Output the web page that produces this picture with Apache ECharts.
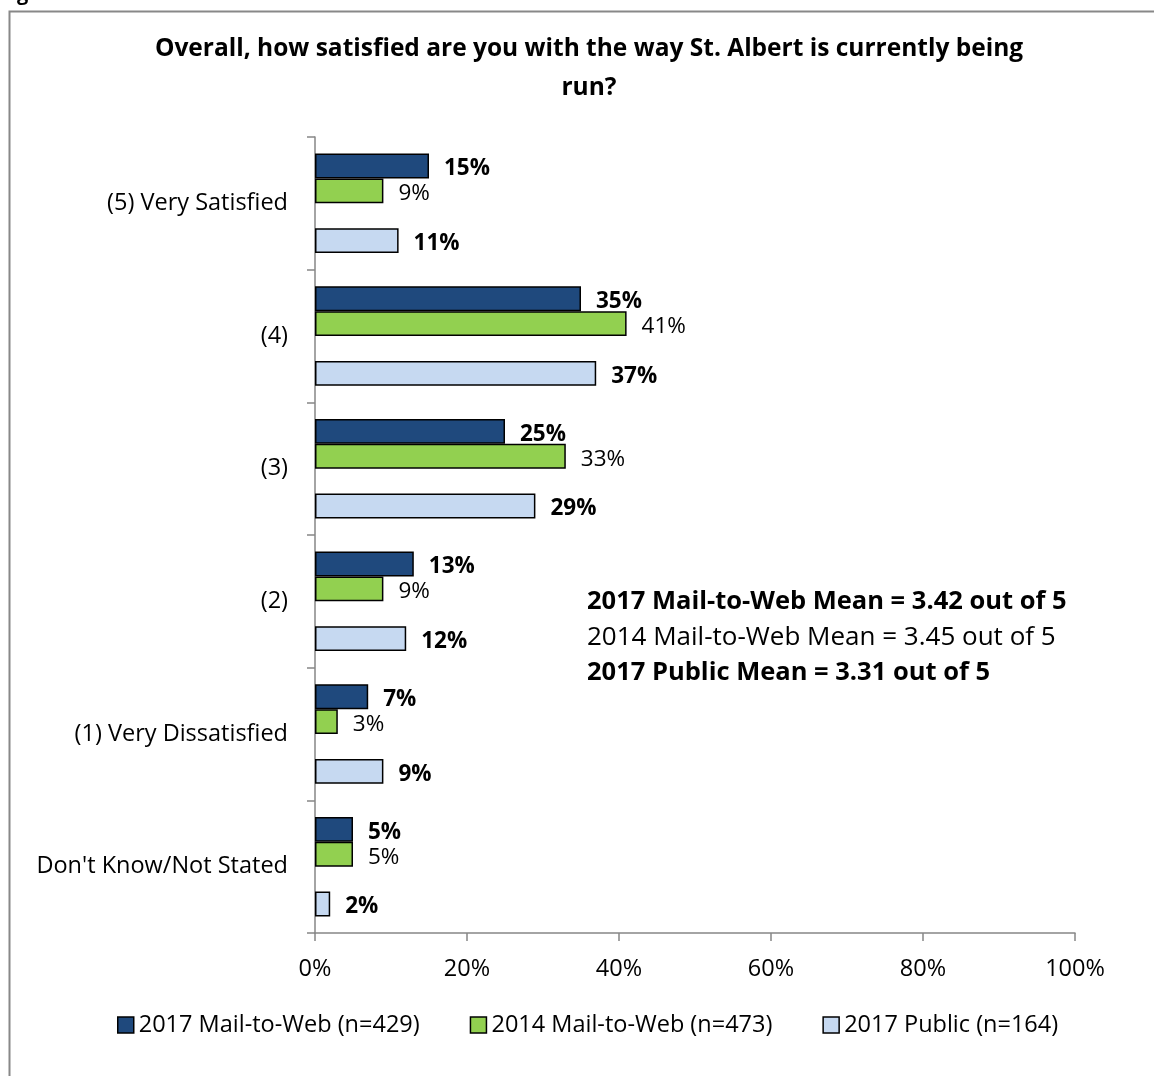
<!DOCTYPE html>
<html>
<head>
<meta charset="utf-8">
<script src="https://cdn.jsdelivr.net/npm/echarts@6/dist/echarts.min.js"></script>
<style>
  html, body { margin: 0; padding: 0; background: #fff; }
  #chart { width: 1154px; height: 1076px; }
</style>
</head>
<body>
<div id="chart"></div>
<script>
// Response categories, top to bottom
const categories = ['(5) Very Satisfied', '(4)', '(3)', '(2)', '(1) Very Dissatisfied', "Don't Know/Not Stated"];
// Percent of respondents per category
const mailToWeb2017 = [15, 35, 25, 13, 7, 5];
const mailToWeb2014 = [9, 41, 33, 9, 3, 5];
const public2017 = [11, 37, 29, 12, 9, 2];
const seriesNames = ['2017 Mail-to-Web (n=429)', '2014 Mail-to-Web (n=473)', '2017 Public (n=164)'];
const meanLines = [
  '2017 Mail-to-Web Mean = 3.42 out of 5',
  '2014 Mail-to-Web Mean = 3.45 out of 5',
  '2017 Public Mean = 3.31 out of 5'
];
const xTicks = [0, 20, 40, 60, 80, 100];

const FONT = '"Open Sans", Lato, sans-serif';
const colors = ['#1f497d', '#92d050', '#c6d9f1'];
const axisGrey = '#868686';

const chart = echarts.init(document.getElementById('chart'), null, { renderer: 'canvas' });

function barSeries(name, data, color, bold) {
  return {
    name: name,
    type: 'bar',
    data: data,
    barGap: '0%',
    barCategoryGap: '25%',
    itemStyle: { color: color, borderColor: '#000', borderWidth: 1.5 },
    label: {
      show: true,
      position: 'right',
      distance: 15,
      offset: [0, 3],
      formatter: '{c}%',
      color: '#000',
      fontFamily: FONT,
      fontSize: 22.5,
      fontWeight: bold ? 'bold' : 'normal'
    },
    emphasis: { disabled: true },
    animation: false
  };
}

chart.setOption({
  backgroundColor: '#fff',
  animation: false,
  textStyle: { fontFamily: FONT },
  title: {
    text: 'Overall, how satisfied are you with the way St. Albert is currently being\nrun?',
    left: 584,
    top: 25,
    textAlign: 'center',
    textStyle: { fontFamily: FONT, fontSize: 24.5, fontWeight: 'bold', color: '#000', lineHeight: 39 }
  },
  legend: {
    bottom: 34,
    left: 112,
    itemWidth: 16,
    itemHeight: 16,
    itemGap: 50,
    icon: 'rect',
    textStyle: { fontFamily: FONT, fontSize: 23.5, color: '#000' },
    data: seriesNames.map((n, i) => ({
      name: n,
      itemStyle: { color: colors[i], borderColor: '#000', borderWidth: 1.5 }
    }))
  },
  grid: { left: 315, right: 79, top: 137, bottom: 143, containLabel: false },
  xAxis: {
    type: 'value',
    min: xTicks[0],
    max: xTicks[xTicks.length - 1],
    interval: xTicks[1] - xTicks[0],
    axisLine: { show: true, lineStyle: { color: axisGrey, width: 1.5 } },
    axisTick: { show: true, length: 8, lineStyle: { color: axisGrey, width: 1.5 } },
    splitLine: { show: false },
    axisLabel: { formatter: '{value}%', fontFamily: FONT, fontSize: 23.5, color: '#000', margin: 24 }
  },
  yAxis: {
    type: 'category',
    inverse: true,
    data: categories,
    axisLine: { show: true, lineStyle: { color: axisGrey, width: 1.5 } },
    axisTick: { show: true, length: 8, alignWithLabel: false, lineStyle: { color: axisGrey, width: 1.5 } },
    axisLabel: { fontFamily: FONT, fontSize: 23.5, color: '#000', margin: 27 }
  },
  series: [
    barSeries(seriesNames[0], mailToWeb2017, colors[0], true),
    barSeries(seriesNames[1], mailToWeb2014, colors[1], false),
    // empty slot between the mail-to-web pair and the public bar
    { name: 'spacer', type: 'bar', data: categories.map(() => '-'), barGap: '0%', barCategoryGap: '25%', silent: true },
    barSeries(seriesNames[2], public2017, colors[2], true)
  ],
  graphic: [
    {
      type: 'rect', left: 7, top: 9, silent: true,
      shape: { width: 1300, height: 1300 },
      style: { fill: 'none', stroke: '#888', lineWidth: 2 }
    },
    {
      type: 'text', left: 0, top: -16, silent: true,
      style: { text: 'Figure 18', fontFamily: FONT, fontSize: 20, fontWeight: 'bold', fill: '#000' }
    },
    {
      type: 'group', left: 587, top: 589, silent: true,
      children: meanLines.map((t, i) => ({
        type: 'text', left: 0, top: i * 35.5,
        style: {
          text: t, fontFamily: FONT, fontSize: i === 1 ? 26 : 25.5,
          fontWeight: i === 1 ? 'normal' : 'bold', fill: '#000'
        }
      }))
    }
  ]
});
</script>
</body>
</html>
